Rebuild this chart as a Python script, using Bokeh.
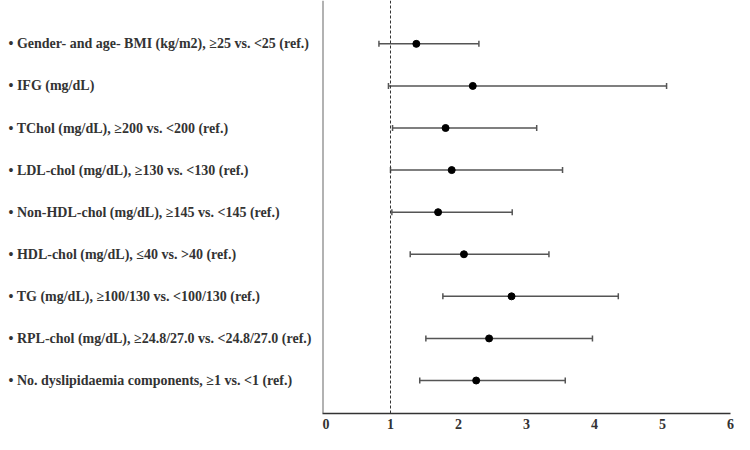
import math
from bokeh.plotting import figure
from bokeh.layouts import row
from bokeh.models import Range1d, Span, FixedTicker, ColumnDataSource
from bokeh.core.properties import value
from bokeh.embed import file_html
from bokeh.resources import INLINE

labels = [
    "Gender- and age- BMI (kg/m2), \u226525 vs. <25 (ref.)",
    "IFG (mg/dL)",
    "TChol (mg/dL), \u2265200 vs. <200 (ref.)",
    "LDL-chol (mg/dL), \u2265130 vs. <130 (ref.)",
    "Non-HDL-chol (mg/dL), \u2265145 vs. <145 (ref.)",
    "HDL-chol (mg/dL), \u226440 vs. >40 (ref.)",
    "TG (mg/dL), \u2265100/130 vs. <100/130 (ref.)",
    "RPL-chol (mg/dL), \u226524.8/27.0 vs. <24.8/27.0 (ref.)",
    "No. dyslipidaemia components, \u22651 vs. <1 (ref.)",
]
or_vals = [1.38, 2.21, 1.81, 1.90, 1.70, 2.08, 2.78, 2.45, 2.26]
lower = [0.83, 0.97, 1.03, 1.00, 1.02, 1.29, 1.77, 1.52, 1.43]
upper = [2.30, 5.06, 3.15, 3.53, 2.79, 3.33, 4.35, 3.97, 3.57]
x_ticks = [0, 1, 2, 3, 4, 5, 6]
ref_line = 1

n = len(labels)
ypos = [n - i for i in range(n)]
src = ColumnDataSource(dict(
    y=ypos, orv=or_vals, lo=lower, hi=upper,
    lab=["\u2022 " + s for s in labels],
))

yr = Range1d(0.216, n + 1.03)
H = 434
BOTTOM = 21
LEFT_W = 322
FONT = "Liberation Serif"

left = figure(width=LEFT_W, height=H, x_range=Range1d(0, LEFT_W), y_range=yr,
              toolbar_location=None, output_backend="svg",
              x_axis_location=None, y_axis_location=None,
              min_border_left=0, min_border_right=0, min_border_top=0,
              min_border_bottom=BOTTOM, outline_line_color=None)
left.grid.visible = False
left.text(x=8, y="y", text="lab", source=src, text_align="left",
          text_baseline="middle", text_font=value(FONT),
          text_font_style="bold", text_font_size="14px", text_color="#333333")

p = figure(width=734 - LEFT_W, height=H, x_range=Range1d(0, 6), y_range=yr,
           toolbar_location=None, output_backend="svg",
           y_axis_location=None,
           min_border_left=0, min_border_right=4, min_border_top=0,
           min_border_bottom=BOTTOM, outline_line_color=None)
p.grid.visible = False
p.xaxis.ticker = FixedTicker(ticks=x_ticks)
p.xaxis.axis_line_color = "#333333"
p.xaxis.axis_line_width = 1.5
p.xaxis.major_tick_line_color = None
p.xaxis.major_tick_out = 0
p.xaxis.major_tick_in = 0
p.xaxis.minor_tick_line_color = None
p.xaxis.major_label_text_font = FONT
p.xaxis.major_label_text_font_style = "bold"
p.xaxis.major_label_text_font_size = "14px"
p.xaxis.major_label_text_color = "#333333"
p.xaxis.major_label_standoff = 5

p.add_layout(Span(location=0, dimension="height", line_color="#666666", line_width=2))
p.add_layout(Span(location=ref_line, dimension="height", line_color="#333333",
                  line_width=1, line_dash="3 2"))

p.segment(x0="lo", x1="hi", y0="y", y1="y", source=src, line_color="#555555", line_width=1.5)
p.scatter(x="lo", y="y", source=src, marker="dash", angle=math.pi / 2, size=6,
          line_color="#555555", line_width=1.5)
p.scatter(x="hi", y="y", source=src, marker="dash", angle=math.pi / 2, size=6,
          line_color="#555555", line_width=1.5)
p.scatter(x="orv", y="y", source=src, marker="circle", size=7,
          fill_color="black", line_color="black")

layout = row(left, p)
open("out.html", "w").write(file_html(layout, INLINE))
